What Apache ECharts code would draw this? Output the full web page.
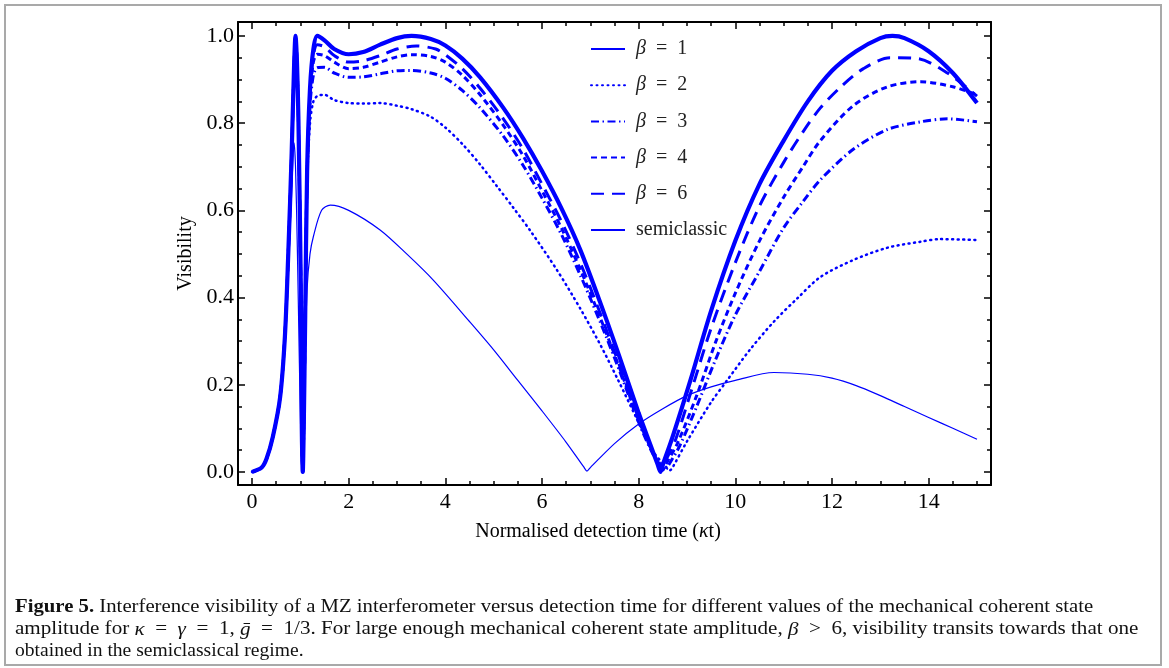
<!DOCTYPE html>
<html>
<head>
<meta charset="utf-8">
<script src="https://cdn.jsdelivr.net/npm/echarts@6/dist/echarts.min.js"></script>
<style>
  html, body { margin: 0; padding: 0; background: #fff; }
  #chart { width: 1169px; height: 668px; }
</style>
</head>
<body>
<div id="chart"></div>
<script>
// values: [kappa t, visibility]
var beta1 = [
  [0, 0], [0.2, 0.01], [0.3, 0.03], [0.43, 0.075], [0.58, 0.16], [0.68, 0.29], [0.75, 0.45],
  [0.82, 0.64], [0.87, 0.755], [0.9, 0.7], [0.94, 0.5], [0.98, 0.25], [1.01, 0.08], [1.03, 0],
  [1.05, 0.08], [1.08, 0.2], [1.14, 0.42], [1.2, 0.5], [1.27, 0.54], [1.44, 0.6], [1.62, 0.612],
  [2.0, 0.6], [2.65, 0.555], [3.2, 0.5], [3.75, 0.44], [4.5, 0.345], [5.0, 0.28], [5.5, 0.21],
  [6.0, 0.14], [6.5, 0.068], [6.86, 0.012], [6.93, 0.002], [7.0, 0.01], [7.5, 0.065], [8.0, 0.11],
  [8.5, 0.145], [9.0, 0.175], [9.5, 0.195], [10.0, 0.21], [10.8, 0.228], [11.5, 0.224],
  [12.0, 0.215], [12.5, 0.198], [13.0, 0.175], [13.5, 0.15], [14.0, 0.125], [14.5, 0.1],
  [15.0, 0.075]
]
var beta2 = [
  [0, 0], [0.2, 0.01], [0.3, 0.03], [0.43, 0.08], [0.58, 0.17], [0.68, 0.31], [0.75, 0.5],
  [0.82, 0.73], [0.87, 0.93], [0.9, 0.99], [0.93, 0.93], [0.96, 0.81], [1.01, 0.42], [1.03, 0.1],
  [1.05, 0], [1.07, 0.1], [1.1, 0.35], [1.14, 0.66], [1.2, 0.8], [1.27, 0.85], [1.35, 0.862],
  [1.5, 0.865], [1.7, 0.853], [2.0, 0.846], [2.3, 0.845], [2.65, 0.846], [3.0, 0.84], [3.3, 0.832],
  [3.69, 0.815], [4.0, 0.79], [4.37, 0.75], [4.72, 0.705], [5.07, 0.655], [5.4, 0.607],
  [5.76, 0.553], [6.31, 0.463], [6.79, 0.375], [7.2, 0.293], [7.56, 0.214], [8.0, 0.113],
  [8.3, 0.047], [8.58, 0.01], [8.65, 0.004], [8.72, 0.014], [9.0, 0.07], [9.5, 0.16], [9.83, 0.21],
  [10.3, 0.28], [10.8, 0.345], [11.3, 0.4], [11.76, 0.447], [12.44, 0.486], [13.14, 0.514],
  [13.83, 0.528], [14.24, 0.534], [15.0, 0.532]
]
var beta3 = [
  [0, 0], [0.2, 0.01], [0.3, 0.03], [0.43, 0.08], [0.58, 0.17], [0.68, 0.31], [0.75, 0.5],
  [0.82, 0.73], [0.87, 0.93], [0.9, 1.0], [0.93, 0.94], [0.96, 0.81], [1.01, 0.42], [1.03, 0.1],
  [1.05, 0], [1.07, 0.1], [1.1, 0.35], [1.14, 0.68], [1.2, 0.84], [1.27, 0.91], [1.35, 0.927],
  [1.5, 0.928], [1.7, 0.915], [2.0, 0.905], [2.3, 0.906], [2.65, 0.913], [3.0, 0.92], [3.3, 0.921],
  [3.7, 0.915], [4.0, 0.903], [4.35, 0.875], [4.72, 0.835], [5.2, 0.77], [5.61, 0.703],
  [6.0, 0.628], [6.4, 0.545], [6.79, 0.452], [7.2, 0.345], [7.6, 0.233], [8.0, 0.114],
  [8.3, 0.04], [8.49, 0.012], [8.55, 0.004], [8.61, 0.014], [8.85, 0.06], [9.2, 0.15], [9.6, 0.26],
  [10.0, 0.36], [10.5, 0.46], [11.0, 0.56], [11.4, 0.62], [11.76, 0.67], [12.44, 0.74],
  [13.14, 0.785], [13.83, 0.803], [14.39, 0.81], [15.0, 0.803]
]
var beta4 = [
  [0, 0], [0.2, 0.01], [0.3, 0.03], [0.43, 0.08], [0.58, 0.17], [0.68, 0.31], [0.75, 0.5],
  [0.82, 0.73], [0.87, 0.93], [0.9, 1.0], [0.93, 0.94], [0.96, 0.81], [1.01, 0.42], [1.03, 0.1],
  [1.05, 0], [1.07, 0.1], [1.1, 0.35], [1.14, 0.69], [1.2, 0.86], [1.27, 0.94], [1.35, 0.958],
  [1.5, 0.955], [1.7, 0.94], [2.0, 0.925], [2.3, 0.928], [2.65, 0.94], [3.0, 0.952], [3.3, 0.957],
  [3.7, 0.953], [4.0, 0.94], [4.35, 0.91], [4.72, 0.865], [5.2, 0.795], [5.61, 0.725],
  [6.0, 0.645], [6.4, 0.56], [6.79, 0.465], [7.2, 0.355], [7.6, 0.24], [8.0, 0.118],
  [8.25, 0.055], [8.44, 0.015], [8.5, 0.004], [8.56, 0.017], [8.8, 0.065], [9.2, 0.175],
  [9.6, 0.3], [10.0, 0.41], [10.5, 0.53], [11.0, 0.63], [11.4, 0.7], [11.76, 0.76], [12.44, 0.84],
  [13.14, 0.883], [13.83, 0.895], [14.52, 0.883], [15.0, 0.865]
]
var beta6 = [
  [0, 0], [0.2, 0.01], [0.3, 0.03], [0.43, 0.08], [0.58, 0.17], [0.68, 0.31], [0.75, 0.5],
  [0.82, 0.73], [0.87, 0.93], [0.9, 1.0], [0.93, 0.94], [0.96, 0.81], [1.01, 0.42], [1.03, 0.1],
  [1.05, 0], [1.07, 0.1], [1.1, 0.35], [1.14, 0.69], [1.2, 0.87], [1.27, 0.955], [1.35, 0.98],
  [1.5, 0.975], [1.7, 0.955], [2.0, 0.94], [2.3, 0.943], [2.65, 0.955], [3.0, 0.97], [3.4, 0.977],
  [3.8, 0.97], [4.0, 0.957], [4.35, 0.925], [4.72, 0.88], [5.2, 0.81], [5.61, 0.74], [6.0, 0.66],
  [6.4, 0.575], [6.79, 0.48], [7.2, 0.365], [7.6, 0.245], [8.0, 0.122], [8.25, 0.055],
  [8.41, 0.018], [8.47, 0.003], [8.53, 0.02], [8.75, 0.07], [9.1, 0.19], [9.5, 0.33], [10.0, 0.48],
  [10.5, 0.61], [11.0, 0.71], [11.4, 0.78], [11.76, 0.835], [12.2, 0.885], [12.65, 0.925],
  [13.2, 0.95], [13.77, 0.948], [14.39, 0.915], [15.0, 0.862]
]
var semiclassic = [
  [0, 0], [0.2, 0.01], [0.3, 0.03], [0.43, 0.08], [0.58, 0.17], [0.68, 0.31], [0.75, 0.5],
  [0.82, 0.73], [0.87, 0.93], [0.9, 1.0], [0.93, 0.94], [0.96, 0.81], [1.01, 0.42], [1.03, 0.1],
  [1.05, 0], [1.07, 0.1], [1.1, 0.35], [1.14, 0.69], [1.2, 0.88], [1.27, 0.97], [1.35, 1.0],
  [1.5, 0.99], [1.7, 0.97], [2.0, 0.958], [2.3, 0.963], [2.65, 0.98], [3.0, 0.995], [3.3, 1.0],
  [3.7, 0.993], [4.0, 0.978], [4.35, 0.948], [4.72, 0.905], [5.2, 0.835], [5.61, 0.765],
  [6.0, 0.69], [6.4, 0.605], [6.79, 0.51], [7.2, 0.39], [7.6, 0.265], [8.0, 0.135], [8.25, 0.06],
  [8.39, 0.018], [8.45, 0], [8.51, 0.02], [8.7, 0.08], [9.07, 0.21], [9.5, 0.37], [10.0, 0.53],
  [10.5, 0.66], [11.0, 0.76], [11.5, 0.85], [12.0, 0.92], [12.5, 0.965], [13.0, 0.995],
  [13.25, 1.0], [13.5, 0.995], [14.0, 0.965], [14.5, 0.915], [15.0, 0.846]
]

var seriesNames = ['β = 1', 'β = 2', 'β = 3', 'β = 4', 'β = 6', 'semiclassic']
var xMajorTicks = [0, 2, 4, 6, 8, 10, 12, 14]
var xMinorTicks = [0, 0.5, 1, 1.5, 2, 2.5, 3, 3.5, 4, 4.5, 5, 5.5, 6, 6.5, 7, 7.5, 8, 8.5, 9, 9.5,
  10, 10.5, 11, 11.5, 12, 12.5, 13, 13.5, 14, 14.5, 15]
var yMajorTicks = [0, 0.2, 0.4, 0.6, 0.8, 1.0]
var yMinorTicks = [0, 0.05, 0.1, 0.15, 0.2, 0.25, 0.3, 0.35, 0.4, 0.45, 0.5, 0.55, 0.6, 0.65, 0.7,
  0.75, 0.8, 0.85, 0.9, 0.95, 1.0]

var serif = 'Liberation Serif'
var blue = '#0000ff'

function frameAxis(pos, min, max, ticks, len, opts) {
  var a = {
    type: 'value',
    position: pos,
    min: min,
    max: max,
    splitLine: { show: false },
    axisLine: { show: !!opts.line, onZero: false, lineStyle: { color: '#000', width: 2 } },
    axisTick: { show: true, inside: true, length: len, customValues: ticks, lineStyle: { color: '#000', width: 1.5 } },
    axisLabel: { show: false }
  }
  if (opts.labels) {
    a.axisLabel = {
      show: true,
      customValues: opts.labels,
      margin: opts.margin,
      fontFamily: serif,
      fontSize: 22,
      color: '#000',
      formatter: opts.formatter
    }
  }
  if (opts.name) {
    a.name = opts.name
    a.nameLocation = 'middle'
    a.nameGap = opts.nameGap
    a.nameTextStyle = {
      fontFamily: serif, fontSize: 20, color: '#000', padding: opts.namePadding || 0,
      rich: { i: { fontFamily: serif, fontSize: 20, fontStyle: 'italic', color: '#000' } }
    }
  }
  return a
}

var chart = echarts.init(document.getElementById('chart'))

var styles = [
  { width: 1.2, type: 'solid' },
  { width: 2.5, type: [1, 4.5], cap: 'round' },
  { width: 3, type: [8, 3.5, 1.5, 3.5] },
  { width: 3, type: [6, 4] },
  { width: 3, type: [13, 8] },
  { width: 4.2, type: 'solid' }
]
var datasets = [beta1, beta2, beta3, beta4, beta6, semiclassic]
var captionFont = '19px "Liberation Serif"'

chart.setOption({
  animation: false,
  backgroundColor: '#fff',
  grid: { left: 238, top: 22, width: 753, height: 463 },
  legend: {
    data: seriesNames,
    orient: 'vertical',
    left: 590,
    top: 39,
    padding: 0,
    itemWidth: 34,
    itemHeight: 14,
    itemGap: 16.2,
    itemStyle: { opacity: 0 },
    textStyle: {
      fontFamily: serif,
      fontSize: 20,
      color: '#222',
      lineHeight: 20,
      padding: [0, 0, 0, 6],
      rich: { i: { fontFamily: serif, fontStyle: 'italic', fontSize: 20, color: '#222' } }
    },
    formatter: function (name) {
      if (name.charAt(0) === 'β') return '{i|β}  =  ' + name.slice(4)
      return name
    }
  },
  xAxis: [
    frameAxis('bottom', -0.29, 15.29, xMajorTicks, 7, {
      line: true, labels: xMajorTicks, margin: 6,
      name: 'Normalised detection time ({i|κ}t)', nameGap: 37, namePadding: [0, 33, 0, 0]
    }),
    frameAxis('bottom', -0.29, 15.29, xMinorTicks, 4, {}),
    frameAxis('top', -0.29, 15.29, xMajorTicks, 7, { line: true }),
    frameAxis('top', -0.29, 15.29, xMinorTicks, 4, {})
  ],
  yAxis: [
    frameAxis('left', -0.03, 1.032, yMajorTicks, 7, {
      line: true, labels: yMajorTicks, margin: 4,
      formatter: function (v) { return v.toFixed(1) },
      name: 'Visibility', nameGap: 41
    }),
    frameAxis('left', -0.03, 1.032, yMinorTicks, 4, {}),
    frameAxis('right', -0.03, 1.032, yMajorTicks, 7, { line: true }),
    frameAxis('right', -0.03, 1.032, yMinorTicks, 4, {})
  ],
  series: datasets.map(function (d, i) {
    return {
      name: seriesNames[i],
      type: 'line',
      data: d,
      xAxisIndex: 0,
      yAxisIndex: 0,
      symbol: 'none',
      smooth: 0.3,
      color: blue,
      lineStyle: Object.assign({ color: blue }, styles[i]),
      z: 2 + i
    }
  }),
  graphic: [
    {
      type: 'rect',
      shape: { x: 5, y: 5, width: 1156, height: 660 },
      style: { fill: 'none', stroke: '#a9a9a9', lineWidth: 2 },
      silent: true
    },
    {
      type: 'text', x: 15, y: 598, scaleX: 1.092,
      style: {
        text: '{b|Figure 5.} Interference visibility of a MZ interferometer versus detection time for different values of the mechanical coherent state',
        font: captionFont, fill: '#111',
        rich: { b: { fontWeight: 'bold', fontFamily: serif, fontSize: 19 } }
      }
    },
    {
      type: 'text', x: 15, y: 620, scaleX: 1.11,
      style: {
        text: 'amplitude for {m|κ}  =  {m|γ}  =  1, {m|ḡ}  =  1/3. For large enough mechanical coherent state amplitude, {m|β}  >  6, visibility transits towards that one',
        font: captionFont, fill: '#111',
        rich: { m: { fontStyle: 'italic', fontFamily: serif, fontSize: 19 } }
      }
    },
    {
      type: 'text', x: 15, y: 642, scaleX: 1.03,
      style: {
        text: 'obtained in the semiclassical regime.',
        font: captionFont, fill: '#111'
      }
    }
  ]
})
</script>
</body>
</html>
